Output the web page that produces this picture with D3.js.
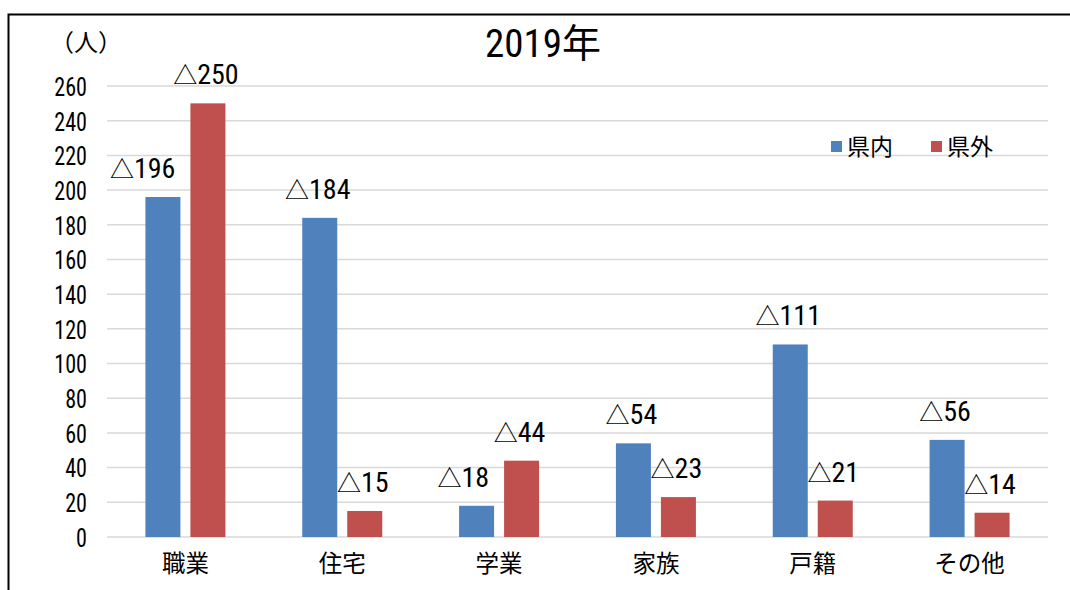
<!DOCTYPE html>
<html>
<head>
<meta charset="utf-8">
<script src="https://cdn.jsdelivr.net/npm/d3@7"></script>
<style>
body { margin: 0; background: #fff; }
text { font-family: Roboto, "Noto Sans CJK JP", sans-serif; font-stretch: condensed; fill: #000; }
.cjk { font-family: "Noto Sans CJK JP", sans-serif; font-stretch: normal; }
</style>
</head>
<body>
<div id="chart"></div>
<script>
// data
var categories = ["職業", "住宅", "学業", "家族", "戸籍", "その他"];
var inPref = [196, 184, 18, 54, 111, 56];
var outPref = [250, 15, 44, 23, 21, 14];
var seriesNames = ["県内", "県外"];
var seriesColors = ["#4f81bd", "#c0504d"];
var yTicks = d3.range(0, 261, 20);

var W = 1070, H = 590;
var margin = { top: 86, right: 22, bottom: 53, left: 107 };
var width = W - margin.left - margin.right;
var height = H - margin.top - margin.bottom;

var svg = d3.select("#chart").append("svg")
	.attr("width", W)
	.attr("height", H);

//frame
svg.append("path")
	.attr("d", "M8.5," + H + "V14.5H" + W)
	.attr("fill", "none")
	.attr("stroke", "#000")
	.attr("stroke-width", 2);

var g = svg.append("g")
	.attr("transform", "translate(" + margin.left + "," + margin.top + ")");

//scales
var x = d3.scaleBand()
	.domain(categories)
	.range([0, width]);

var y = d3.scaleLinear()
	.domain([0, 260])
	.range([height, 0]);

var barW = 35, barGap = 10;

//gridlines
g.selectAll(".grid")
	.data(yTicks)
	.enter()
	.append("line")
	.attr("x1", 0)
	.attr("x2", width)
	.attr("y1", function(d) { return y(d); })
	.attr("y2", function(d) { return y(d); })
	.attr("stroke", "#d9d9d9")
	.attr("stroke-width", 1.5);

//y axis - digits squeezed a bit to match the narrow face of the original
var sx = 0.85;
var yAxis = g.append("g")
	.call(d3.axisLeft(y).tickValues(yTicks).tickSize(0));
yAxis.select(".domain").remove();
yAxis.selectAll("text")
	.attr("font-size", 26)
	.attr("font-family", null)
	.attr("x", -20 / sx)
	.attr("dy", "0.36em")
	.attr("transform", "scale(" + sx + ",1)");

//x axis
var xAxis = g.append("g")
	.attr("transform", "translate(0," + height + ")")
	.call(d3.axisBottom(x).tickSize(0).tickPadding(18));
xAxis.select(".domain").remove();
xAxis.selectAll("text")
	.attr("class", "cjk")
	.attr("font-family", null)
	.attr("font-size", 23.5);

//bars
var series = [inPref, outPref];
series.forEach(function(vals, si) {
	var off = si === 0 ? -barGap / 2 - barW : barGap / 2;
	var grp = g.selectAll(".bar" + si)
		.data(categories)
		.enter()
		.append("g")
		.attr("class", "bar" + si);
	grp.append("rect")
		.attr("x", function(d) { return x(d) + x.bandwidth() / 2 + off; })
		.attr("y", function(d, i) { return y(vals[i]); })
		.attr("width", barW)
		.attr("height", function(d, i) { return height - y(vals[i]); })
		.attr("fill", seriesColors[si]);
	grp.append("text")
		.attr("font-size", 28)
		.attr("y", function(d, i) { return y(vals[i]) - 19; })
		.each(function(d, i) {
			var t = d3.select(this);
			t.append("tspan").attr("font-size", 24).text("△");
			t.append("tspan").text(vals[i]);
			var cx = x(d) + x.bandwidth() / 2 + off + barW / 2;
			var w = this.getComputedTextLength();
			//blue label would run into a taller red bar: push it left
			if (si === 0 && y(outPref[i]) < y(vals[i]) - 19 && w / 2 > barW / 2 + barGap - 2) {
				t.attr("x", x(d) + x.bandwidth() / 2 + barGap / 2 - 15).attr("text-anchor", "end");
			} else {
				t.attr("x", cx - 2).attr("text-anchor", "middle");
			}
		});
});

//title
svg.append("text")
	.attr("x", 543)
	.attr("y", 57)
	.attr("text-anchor", "middle")
	.attr("font-size", 39)
	.text("2019年");

//unit
svg.append("text")
	.attr("x", 86)
	.attr("y", 51)
	.attr("text-anchor", "middle")
	.attr("class", "cjk")
	.attr("font-size", 24)
	.text("（人）");

//legend
var legend = svg.selectAll(".legend")
	.data(seriesNames)
	.enter()
	.append("g")
	.attr("class", "legend")
	.attr("transform", function(d, i) { return "translate(" + (831 + i * 100) + ",141)"; });
legend.append("rect")
	.attr("width", 11)
	.attr("height", 11)
	.attr("fill", function(d, i) { return seriesColors[i]; });
legend.append("text")
	.attr("x", 16)
	.attr("y", 14)
	.attr("class", "cjk")
	.attr("font-size", 23)
	.text(function(d) { return d; });
</script>
</body>
</html>
